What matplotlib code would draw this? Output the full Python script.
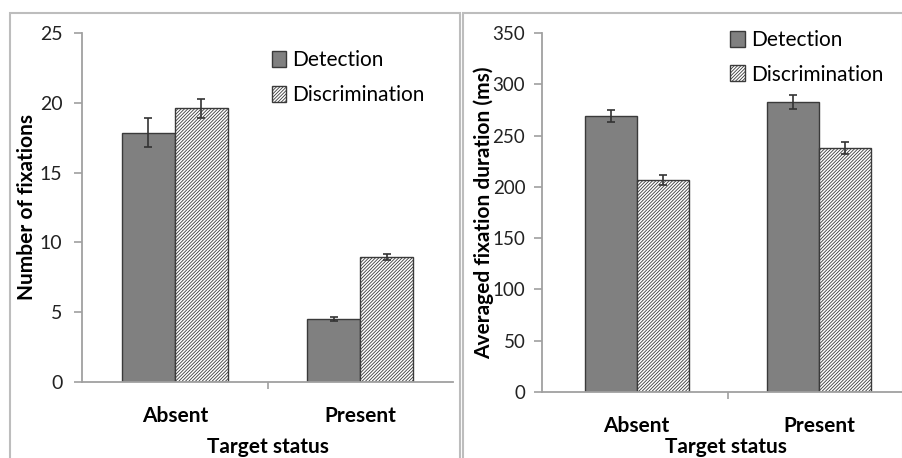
import matplotlib
matplotlib.use("Agg")
import matplotlib.pyplot as plt
import matplotlib.patches as mpatches
import numpy as np

plt.rcParams['font.family'] = ['Lato', 'DejaVu Sans']
plt.rcParams['hatch.color'] = '#8a8a8a'
plt.rcParams['hatch.linewidth'] = 0.6

categories = ["Absent", "Present"]
series = ["Detection", "Discrimination"]

fix_detection = [17.85, 4.5]
fix_detection_err = [1.05, 0.15]
fix_discrim = [19.6, 8.95]
fix_discrim_err = [0.7, 0.2]

dur_detection = [269, 283]
dur_detection_err = [6, 7]
dur_discrim = [207, 238]
dur_discrim_err = [5, 6]

W, H = 903, 458
fig = plt.figure(figsize=(W / 100, H / 100), dpi=100)

# panel borders
for (x0, x1) in [(10, 460), (463, 903)]:
    fig.add_artist(mpatches.Rectangle((x0 / W, -0.05), (x1 - x0) / W, 1.05 - 13 / H,
                                      transform=fig.transFigure, fill=False,
                                      edgecolor='#bdbdbd', linewidth=1.5))

def draw(ax, det, det_err, dis, dis_err, ymax, ystep, ylabel, ytick_size, ypad):
    x = np.arange(len(categories))
    w = 0.286
    b1 = ax.bar(x - w / 2, det, w, color='#808080', edgecolor='#3a3a3a', linewidth=1.0,
                label=series[0], zorder=2)
    b2 = ax.bar(x + w / 2, dis, w, color='white', edgecolor='#3a3a3a', linewidth=1.0,
                hatch='/' * 10, label=series[1], zorder=2)
    ax.errorbar(x - w / 2, det, yerr=det_err, fmt='none', ecolor='#333333',
                elinewidth=1.2, capsize=3, capthick=1.2, zorder=3)
    ax.errorbar(x + w / 2, dis, yerr=dis_err, fmt='none', ecolor='#333333',
                elinewidth=1.2, capsize=3, capthick=1.2, zorder=3)
    ax.set_xlim(-0.5, 1.5)
    ax.set_ylim(0, ymax)
    ax.set_yticks(np.arange(0, ymax + 1, ystep))
    ax.set_xticks(x)
    ax.set_xticklabels(categories, fontsize=15, fontweight='bold')
    ax.set_xticks([0.5], minor=True)
    ax.tick_params(axis='x', which='major', length=0, pad=17)
    ax.tick_params(axis='x', which='minor', length=5, color='#a0a0a0', width=1.2)
    ax.tick_params(axis='y', length=6, color='#a0a0a0', width=1.2, labelsize=ytick_size,
                   pad=ypad, labelcolor='#222222')
    for s in ['top', 'right']:
        ax.spines[s].set_visible(False)
    for s in ['left', 'bottom']:
        ax.spines[s].set_color('#a0a0a0')
        ax.spines[s].set_linewidth(1.3)
    ax.set_ylabel(ylabel, fontsize=15, fontweight='bold')
    ax.set_xlabel("Target status", fontsize=15, fontweight='bold')
    return b1, b2

ax1 = fig.add_axes([82 / W, 1 - 382 / H, (453 - 82) / W, (382 - 33) / H])
draw(ax1, fix_detection, fix_detection_err, fix_discrim, fix_discrim_err, 25, 5,
     "Number of fixations", 14, 8)
ax1.legend(loc='upper left', bbox_to_anchor=(0.5, 0.962), frameon=False, fontsize=15,
           handlelength=0.7, handleheight=0.8, handletextpad=0.3, labelspacing=0.7,
           borderaxespad=0.0, borderpad=0.2)
ax1.yaxis.set_label_coords(-0.12, 0.5)
ax1.xaxis.set_label_coords(0.5, -0.158)

ax2 = fig.add_axes([542 / W, 1 - 392 / H, (910 - 542) / W, (392 - 33) / H])
draw(ax2, dur_detection, dur_detection_err, dur_discrim, dur_discrim_err, 350, 50,
     "Averaged fixation duration (ms)", 13.5, 6)
ax2.set_xlim(-0.52, 1.5)
ax2.legend(loc='upper left', bbox_to_anchor=(0.5, 1.02), frameon=False, fontsize=15,
           handlelength=0.7, handleheight=0.8, handletextpad=0.3, labelspacing=0.7,
           borderaxespad=0.0, borderpad=0.2)
ax2.yaxis.set_label_coords(-0.13, 0.5)
ax2.xaxis.set_label_coords(0.5, -0.125)

fig.savefig("out.png", dpi=100)
